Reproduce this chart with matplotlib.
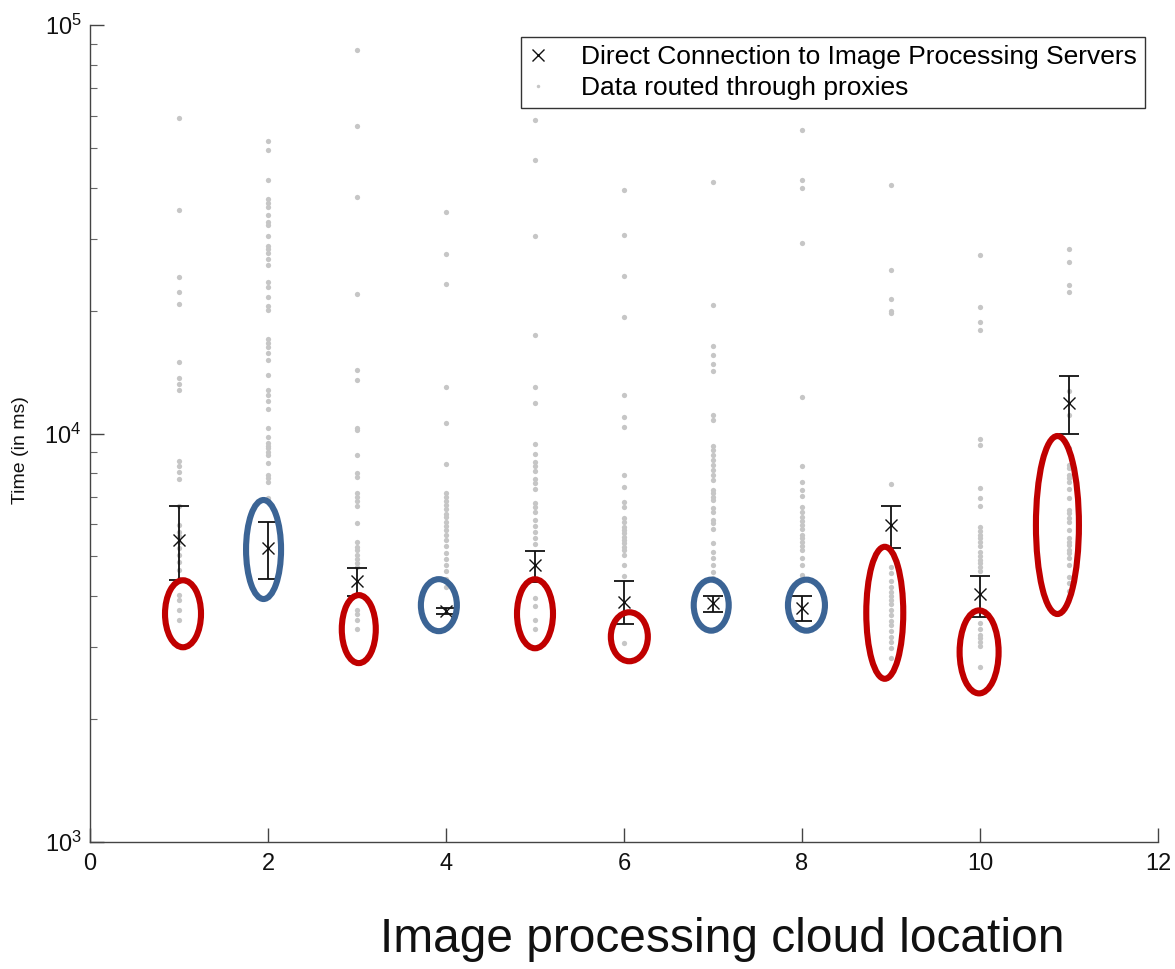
import matplotlib
matplotlib.use("Agg")
import matplotlib.pyplot as plt
import numpy as np
from matplotlib.patches import Ellipse
from matplotlib.ticker import FixedLocator, FuncFormatter, LogLocator, NullFormatter

plt.rcParams["font.family"] = ["Liberation Sans", "DejaVu Sans"]
plt.rcParams["mathtext.default"] = "regular"

# response times (ms) for requests routed through proxies, one list per cloud location
proxy_times = [
    [59200, 35200, 24200, 22200, 20700, 15000, 13700, 13200, 12800, 8560, 8330, 8050, 7740,
     6650, 5970, 5750, 5600, 5420, 5250, 5050, 4850, 4630, 4400, 4030, 3910, 3700, 3490],
    [52000, 49500, 41800, 37500, 36600, 35900, 34200, 33000, 32300, 30500, 28800, 28300, 27600,
     26700, 25900, 23500, 22800, 21600, 20500, 20100, 17000, 16700, 16300, 15700, 15100, 13900,
     12800, 12400, 12000, 11500, 10300, 9830, 9460, 9300, 9200, 9000, 8850, 8450, 7930, 7760,
     7600, 6960],
    [86900, 56600, 37900, 21900, 14300, 13500, 10300, 10200, 8860, 8000, 7820, 7150, 6990, 6840,
     6650, 6040, 5430, 5270, 5190, 5040, 4930, 4820, 4710, 3700, 3610, 3490, 3320],
    [34800, 27500, 23200, 13000, 10600, 8420, 7150, 6990, 6840, 6690, 6540, 6350, 6250, 6070,
     5940, 5810, 5650, 5480, 5310, 5100, 4930, 4770, 4610, 4400, 4210],
    [58400, 46700, 30400, 17400, 13000, 11900, 9430, 8910, 8510, 8320, 8090, 7740, 7570, 7320,
     6760, 6610, 6430, 6140, 5940, 5740, 5550, 5370, 3960, 3780, 3490, 3320],
    [39400, 30600, 24300, 19300, 12400, 11000, 10400, 7910, 7390, 6790, 6610, 6210, 6070, 5900,
     5810, 5700, 5580, 5480, 5390, 5270, 5190, 5040, 4770, 4480, 3070],
    [41300, 20600, 16400, 15600, 14800, 14200, 11100, 10800, 9320, 9110, 8860, 8610, 8370, 8140,
     7910, 7690, 7270, 7150, 6990, 6880, 6570, 6430, 6140, 6040, 5840, 5390, 5130, 4960, 4770,
     4580, 4430],
    [55400, 41800, 39900, 29200, 12300, 8320, 7600, 7270, 7030, 6610, 6430, 6250, 6110, 5970,
     5840, 5650, 5550, 5420, 5310, 5190, 4960, 4770, 4510, 4400],
    [40600, 25100, 21300, 19900, 19700, 7520, 4710, 4560, 4360, 4210, 4090, 4000, 3910, 3830,
     3700, 3600, 3480, 3400, 3290, 3180, 3090, 2990, 2820],
    [27400, 20400, 18800, 17900, 9700, 9380, 7360, 6960, 6650, 5910, 5770, 5650, 5550, 5420,
     5310, 5130, 5010, 4900, 4820, 4710, 4610, 3440, 3320, 3210, 3160, 3090, 3020, 2680],
    [28300, 26300, 23100, 22200, 12700, 11100, 9230, 8370, 8230, 7910, 7780, 7600, 7310, 6950,
     6500, 6390, 6210, 6070, 5810, 5550, 5420, 5330, 5190, 5100, 4960, 4770, 4450, 4310, 4110],
]

# direct connection: mean with lower / upper bounds
locations = np.arange(1, 12)
direct_mean = [5480, 5250, 4360, 3680, 4760, 3870, 3850, 3740, 5970, 4050, 11900]
direct_upper = [6650, 6070, 4690, 3740, 5160, 4350, 4000, 4000, 6650, 4480, 13800]
direct_lower = [4380, 4400, 4000, 3610, 4330, 3420, 3650, 3480, 5250, 3560, 9970]

# highlighted groups (red = proxies faster, blue = similar)
hl_x = [1.045, 1.95, 3.02, 3.92, 5.0, 6.06, 6.98, 8.05, 8.93, 9.99, 10.87]
hl_y = [3620, 5200, 3320, 3800, 3620, 3180, 3800, 3800, 3640, 2920, 5970]
hl_w = [36, 35, 34, 36, 36, 37, 35, 37, 37, 39, 43]
hl_h = [67, 99, 68, 52, 69, 49, 51, 51, 132, 83, 178]
hl_color = ["#c00000", "#3b6495", "#c00000", "#3b6495", "#c00000", "#c00000",
            "#3b6495", "#3b6495", "#c00000", "#c00000", "#c00000"]

fig = plt.figure(figsize=(11.75, 9.69), dpi=100)
ax = fig.add_axes([90 / 1175, 127 / 969, 1068 / 1175, 817 / 969])

for loc, times in zip(locations, proxy_times):
    ax.plot(np.full(len(times), loc), times, "o", ms=3.8, color="#c6c6c6", mec="none", zorder=2)
h_proxy, = ax.plot([], [], "o", ms=2.5, color="#c6c6c6", mec="none")

mean = np.array(direct_mean)
yerr = [mean - np.array(direct_lower), np.array(direct_upper) - mean]
ax.errorbar(locations, mean, yerr=yerr, fmt="none", ecolor="#111111", elinewidth=1.3,
            capsize=7.5, capthick=1.3, zorder=3)
h_direct, = ax.plot(locations, mean, "x", ms=8, mew=1.0, color="#111111", zorder=4)

ax.set_yscale("log")
ax.set_xlim(0, 12)
ax.set_ylim(1e3, 1e5)

for s in ["top", "right"]:
    ax.spines[s].set_visible(False)
for s in ["left", "bottom"]:
    ax.spines[s].set_color("#444444")
    ax.spines[s].set_linewidth(1.0)

ax.xaxis.set_major_locator(FixedLocator(np.arange(0, 13, 2)))
ax.yaxis.set_major_locator(LogLocator(base=10))
ax.yaxis.set_minor_locator(LogLocator(base=10, subs=np.arange(2, 10)))
ax.yaxis.set_minor_formatter(NullFormatter())
ax.yaxis.set_major_formatter(FuncFormatter(lambda v, p: r"$10^{%d}$" % round(np.log10(v))))
ax.tick_params(axis="both", which="major", direction="in", length=10, width=1.0,
               color="#444444", labelsize=17, labelcolor="#111111")
ax.tick_params(axis="x", which="major", pad=8)
ax.tick_params(axis="y", which="major", pad=6)
ax.tick_params(axis="y", which="minor", direction="in", length=5, width=0.8, color="#666666")

ax.set_ylabel("Time (in ms)", fontsize=14, color="#111111")
ax.yaxis.set_label_coords(-0.057, 0.48)

fig.text(722 / 1175, 1 - 940 / 969, "Image processing cloud location", fontsize=34.5,
         ha="center", va="center", color="#111111")

leg = ax.legend([h_direct, h_proxy],
                ["Direct Connection to Image Processing Servers", "Data routed through proxies"],
                loc="upper right", bbox_to_anchor=(1145 / 1175, 1 - 37 / 969),
                bbox_transform=fig.transFigure, fancybox=False, framealpha=1,
                edgecolor="#333333", borderaxespad=0, fontsize=19,
                handlelength=0.7, handletextpad=1.3, borderpad=0.3, labelspacing=0.28)
leg.get_frame().set_linewidth(1.0)

# outline groups; centres are given in data units, sizes in pixels
for x, y, w, h, c in zip(hl_x, hl_y, hl_w, hl_h, hl_color):
    cx, cy = ax.transAxes.inverted().transform(ax.transData.transform((x, y)))
    ax.add_patch(Ellipse((cx, cy), w / 1068, h / 817, transform=ax.transAxes, fill=False,
                         lw=4.4, ec=c, zorder=5, clip_on=False))

fig.savefig("out.png", dpi=100)
